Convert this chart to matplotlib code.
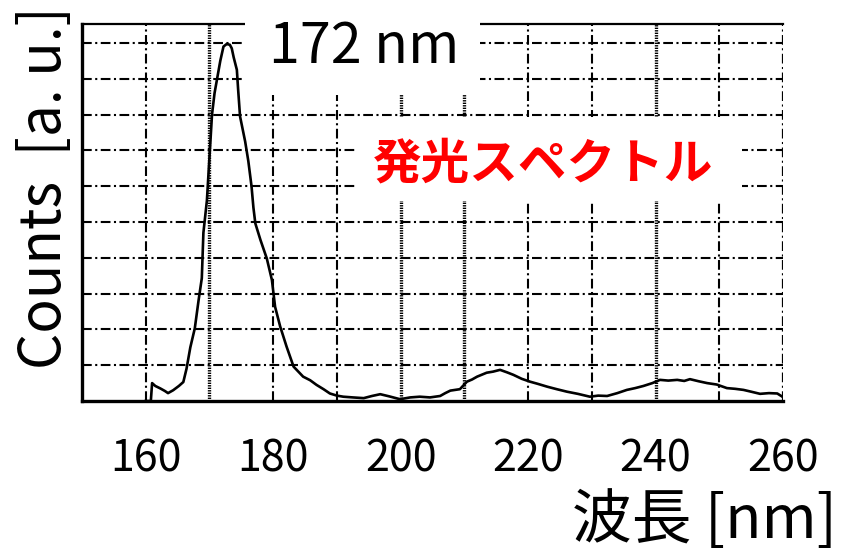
import matplotlib
matplotlib.use("Agg")
import matplotlib.pyplot as plt
from matplotlib.patches import Rectangle

plt.rcParams['font.family'] = ['Noto Sans CJK JP', 'DejaVu Sans']
plt.rcParams['lines.scale_dashes'] = False

# spectrum (wavelength in nm, counts in grid units)
wavelength = [160.0, 160.8, 161.0, 161.5, 162.3, 163.0, 163.5, 164.3, 165.2, 165.9,
              166.4, 167.0, 167.7, 168.3, 168.8, 169.05, 169.6, 170.0, 170.4, 170.8,
              171.1, 171.7, 172.2, 172.7, 173.2, 173.5, 173.8, 174.3, 174.5, 174.8,
              175.6, 176.1, 176.6, 176.9, 177.2, 178.0, 179.0, 179.8, 180.3, 181.1,
              182.1, 183.2, 184.7, 185.8, 186.8, 187.9, 188.9, 190.0, 191.0, 192.5,
              194.2, 195.5, 196.8, 198.2, 199.9, 201.5, 203.0, 204.6, 206.2, 207.0,
              207.8, 209.3, 210.4, 211.2, 212.0, 213.5, 214.5, 215.6, 216.7, 217.7,
              219.0, 220.3, 221.5, 223.0, 224.5, 226.1, 227.8, 229.7, 231.0, 232.4,
              234.0, 235.5, 236.8, 238.1, 239.5, 240.7, 242.0, 243.4, 244.5, 245.4,
              246.8, 248.1, 249.6, 251.2, 252.5, 253.8, 255.0, 256.4, 257.8, 259.1,
              259.9]
counts = [0.0, 0.0, 0.5, 0.42, 0.35, 0.28, 0.22, 0.3, 0.42, 0.53,
          0.9, 1.5, 2.03, 2.82, 3.43, 4.7, 5.6, 6.8, 8.0, 8.6,
          8.9, 9.5, 9.9, 9.97, 9.95, 9.85, 9.6, 9.25, 8.7, 7.95,
          7.25, 6.7, 6.0, 5.4, 4.96, 4.5, 3.98, 3.38, 2.63, 2.08,
          1.52, 0.96, 0.68, 0.58, 0.45, 0.33, 0.21, 0.15, 0.12, 0.1,
          0.08, 0.14, 0.19, 0.13, 0.05, 0.1, 0.12, 0.1, 0.14, 0.22,
          0.29, 0.33, 0.54, 0.6, 0.68, 0.79, 0.82, 0.87, 0.8, 0.73,
          0.62, 0.54, 0.48, 0.4, 0.33, 0.26, 0.2, 0.12, 0.15, 0.14,
          0.22, 0.31, 0.36, 0.42, 0.5, 0.59, 0.57, 0.59, 0.56, 0.61,
          0.55, 0.5, 0.46, 0.36, 0.34, 0.31, 0.26, 0.2, 0.22, 0.21,
          0.12]
xticks = [160, 180, 200, 220, 240, 260]
xtick_labels = ["160", "180", "200", "220", "240", "260"]
vgrid_dotted = [170, 200, 210, 240]
vgrid_dashdot = [160, 180, 190, 220, 230, 250]
hgrid = [1, 2, 3, 4, 5, 6, 7, 8, 9, 10]

W, H = 846, 555
fig = plt.figure(figsize=(W / 100, H / 100), dpi=100)
ax = fig.add_axes([82 / W, 1 - 401 / H, (783 - 82) / W, (401 - 24) / H])

dashdot = (0, (7, 2.5, 1.5, 2.5))
for y in hgrid:
    ax.axhline(y, color="black", lw=1.5, ls=dashdot, zorder=1)
for x in vgrid_dashdot:
    ax.axvline(x, color="black", lw=1.5, ls=dashdot, zorder=1)
for x in vgrid_dotted:
    ax.axvline(x, color="black", lw=2.4, ls=(0, (1, 0.8)), zorder=1)
ax.axvline(260, color="black", lw=1.6, ls=dashdot, zorder=1)

ax.plot(wavelength, counts, color="black", lw=1.9, zorder=3)

ax.set_xlim(150, 260)
ax.set_ylim(0, 10.53)
ax.set_xticks(xticks)
ax.set_xticklabels(xtick_labels)
ax.set_yticks([])
ax.tick_params(axis="x", length=0, pad=26, labelsize=31)
ax.spines["left"].set_linewidth(2.4)
ax.spines["bottom"].set_linewidth(2.4)
ax.spines["top"].set_linewidth(1.6)
ax.spines["right"].set_visible(False)

# white boxes behind the annotations
fig.add_artist(Rectangle((245 / W, 1 - 95 / H), 235 / W, 95 / H,
                         transform=fig.transFigure, facecolor="white",
                         edgecolor="none", zorder=2))
fig.add_artist(Rectangle((355 / W, 1 - 201 / H), 387 / W, 84 / H,
                         transform=fig.transFigure, facecolor="white",
                         edgecolor="none", zorder=2))

fig.text(364 / W, 1 - 47 / H, "172 nm", fontsize=40, ha="center", va="center", zorder=3)
fig.text(543 / W, 1 - 164 / H, "発光スペクトル", fontsize=35, color="#ff0000",
         fontweight="bold", ha="center", va="center", zorder=3)
fig.text(45 / W, 1 - 188 / H, "Counts  [a. u.]", fontsize=41, rotation=90,
         ha="center", va="center")
fig.text(837 / W, 1 - 521 / H, "波長 [nm]", fontsize=43, ha="right", va="center")

fig.savefig("out.png", dpi=100)
